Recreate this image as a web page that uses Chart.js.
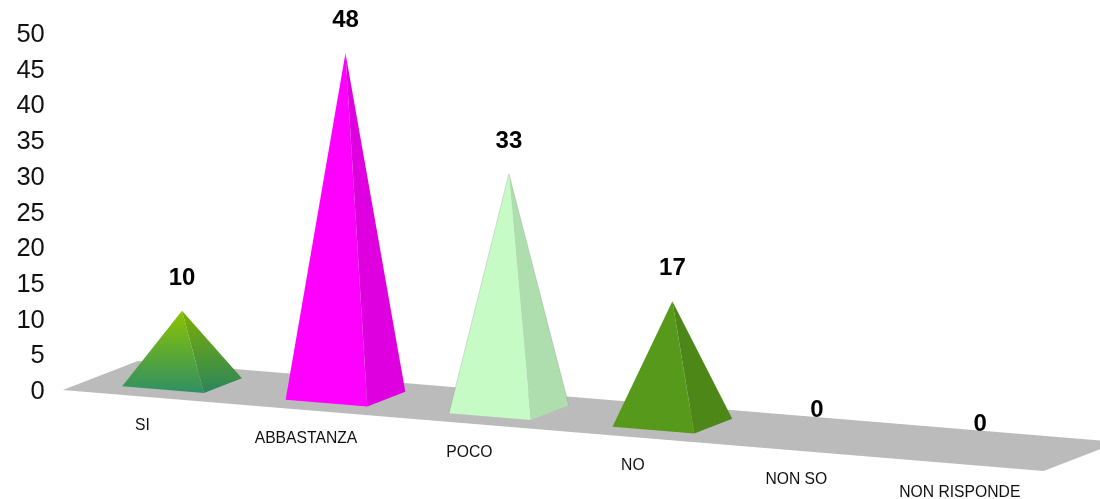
<!DOCTYPE html>
<html>
<head>
<meta charset="utf-8">
<style>html,body{margin:0;padding:0;background:#fff;overflow:hidden}canvas{display:block}</style>
<script src="https://cdn.jsdelivr.net/npm/chart.js@4/dist/chart.umd.min.js"></script>
</head>
<body>
<canvas id="chart" width="1100" height="499"></canvas>
<script>
// Survey answers and their counts
const categories = ['SI', 'ABBASTANZA', 'POCO', 'NO', 'NON SO', 'NON RISPONDE'];
const values = [10, 48, 33, 17, 0, 0];
const yTicks = [0, 5, 10, 15, 20, 25, 30, 35, 40, 45, 50];

// Face colours per category: [top, bottom] of the lit face and of the shaded face
const frontColors = [['#8cc300', '#2f9064'], ['#ff00ff', '#ff00ff'], ['#c6fbc6', '#c6fbc6'], ['#57991b', '#57991b'], ['#999', '#999'], ['#999', '#999']];
const sideColors = [['#7dae02', '#2b855b'], ['#df00df', '#df00df'], ['#aedeae', '#aedeae'], ['#4c8718', '#4c8718'], ['#888', '#888'], ['#888', '#888']];
const edgeColors = [null, null, 'rgba(110,120,110,0.4)', null, null, null];
const floorColor = '#bbbbbb';

// Oblique projection of the floor plane
const FLOOR_SLOPE = 0.0826;     // drop per horizontal pixel along the category axis
const DEPTH_X = 75;             // screen shift across the full floor depth
const DEPTH_Y = -29;
const FOOT_DEPTH = 0.2533;      // half of a pyramid's footprint, as a fraction of floor depth

const FONT = '"Liberation Sans", Arial, sans-serif';

// Screen point on the floor: run along the category axis, depth from 0 (front) to 1 (back)
function floorPoint(chart, x, depth) {
  const area = chart.chartArea;
  const y0 = chart.scales.y.getPixelForValue(0);
  return {
    x: x + (depth - 0.5) * DEPTH_X,
    y: y0 + (x - area.left) * FLOOR_SLOPE + depth * DEPTH_Y
  };
}

function tracePath(ctx, pts) {
  ctx.beginPath();
  pts.forEach((p, i) => (i ? ctx.lineTo(p.x, p.y) : ctx.moveTo(p.x, p.y)));
  ctx.closePath();
}

function fillFace(ctx, pts, colors, top, bottom) {
  const g = ctx.createLinearGradient(0, top, 0, bottom);
  g.addColorStop(0, colors[0]);
  g.addColorStop(1, colors[1]);
  ctx.fillStyle = g;
  tracePath(ctx, pts);
  ctx.fill();
}

// Bars rendered as four-sided pyramids standing on the floor plane
class PyramidController extends Chart.BarController {
  draw() {
    const chart = this.chart;
    const ctx = chart.ctx;
    this._cachedMeta.data.forEach((bar, index) => {
      const height = bar.base - bar.y;
      if (height <= 0) return;
      const half = bar.width / 2;
      const centre = floorPoint(chart, bar.x, 0.5);
      const frontLeft = floorPoint(chart, bar.x - half, 0.5 - FOOT_DEPTH);
      const frontRight = floorPoint(chart, bar.x + half, 0.5 - FOOT_DEPTH);
      const backRight = floorPoint(chart, bar.x + half, 0.5 + FOOT_DEPTH);
      const apex = { x: centre.x, y: centre.y - height };
      ctx.save();
      fillFace(ctx, [apex, frontLeft, frontRight], frontColors[index], apex.y, frontRight.y);
      fillFace(ctx, [apex, frontRight, backRight], sideColors[index], apex.y, frontRight.y);
      if (edgeColors[index]) {
        ctx.strokeStyle = edgeColors[index];
        ctx.lineWidth = 0.6;
        ctx.beginPath();
        ctx.moveTo(frontLeft.x, frontLeft.y);
        ctx.lineTo(apex.x, apex.y);
        ctx.lineTo(backRight.x, backRight.y);
        ctx.stroke();
      }
      ctx.restore();
    });
  }
}
PyramidController.id = 'pyramid';
PyramidController.defaults = Chart.BarController.defaults;
PyramidController.overrides = Chart.BarController.overrides;

Chart.register(PyramidController);

// Grey floor parallelogram under the pyramids
const floorPlugin = {
  id: 'floor',
  beforeDatasetsDraw(chart) {
    const { ctx, chartArea: a } = chart;
    const pts = [
      floorPoint(chart, a.left, 0),
      floorPoint(chart, a.right, 0),
      floorPoint(chart, a.right, 1),
      floorPoint(chart, a.left, 1)
    ];
    ctx.save();
    ctx.fillStyle = floorColor;
    tracePath(ctx, pts);
    ctx.fill();
    ctx.restore();
  }
};

// Category names follow the front edge of the floor; counts sit above each apex
const labelPlugin = {
  id: 'skewedLabels',
  afterDatasetsDraw(chart) {
    const { ctx } = chart;
    const xs = chart.scales.x;
    const bars = chart.getDatasetMeta(0).data;
    ctx.save();
    ctx.textAlign = 'center';
    ctx.textBaseline = 'middle';
    categories.forEach((name, i) => {
      const cx = xs.getPixelForValue(i);
      const c = floorPoint(chart, cx, 0.5);
      ctx.fillStyle = '#111';
      ctx.font = '15.7px ' + FONT;
      ctx.fillText(name, cx - 39.5, c.y + 43);
      const value = values[i];
      ctx.fillStyle = '#000';
      ctx.font = 'bold 24px ' + FONT;
      if (value === 0) {
        ctx.fillText(String(value), cx - 19, c.y - 25.5);
      } else {
        const apexY = c.y - (bars[i].base - bars[i].y);
        ctx.fillText(String(value), cx, apexY - 32.5);
      }
    });
    ctx.restore();
  }
};

new Chart(document.getElementById('chart'), {
  type: 'pyramid',
  data: {
    labels: categories,
    datasets: [{ data: values, clip: false, barPercentage: 1, categoryPercentage: 0.5 }]
  },
  plugins: [floorPlugin, labelPlugin],
  options: {
    responsive: false,
    animation: false,
    layout: { padding: { top: 33, bottom: 109, left: 0, right: 19 } },
    plugins: { legend: { display: false }, tooltip: { enabled: false } },
    scales: {
      x: {
        offset: true,
        grid: { display: false, drawTicks: false },
        border: { display: false },
        ticks: { display: false }
      },
      y: {
        min: 0,
        max: 50,
        afterBuildTicks(scale) { scale.ticks = yTicks.map(v => ({ value: v })); },
        afterFit(scale) {
          scale.width = 100.3;
          scale.paddingTop = 0;
          scale.paddingBottom = 0;
        },
        grid: { display: false, drawTicks: false },
        border: { display: false },
        ticks: { padding: 55.5, labelOffset: 2, color: '#111', font: { family: FONT, size: 25.5 } }
      }
    }
  }
});
</script>
</body>
</html>
